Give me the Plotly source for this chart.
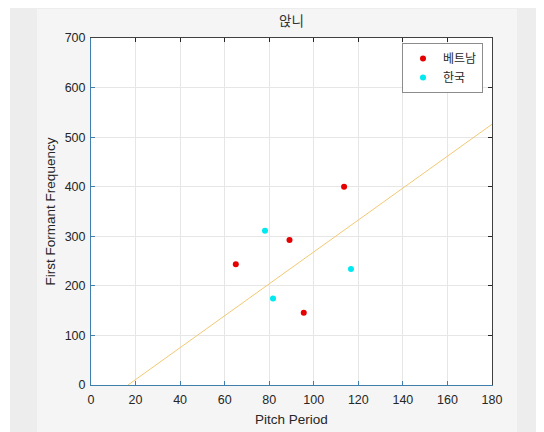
import plotly.graph_objects as go

# ---- data ----
viet_x = [113.6, 89.1, 65.0, 95.5]
viet_y = [400.0, 292.5, 243.5, 146.0]
kor_x = [78.1, 116.7, 81.7]
kor_y = [311.4, 234.0, 174.3]
line_x = [16.6, 180.0]
line_y = [0.0, 526.0]
x_ticks = [0, 20, 40, 60, 80, 100, 120, 140, 160, 180]
y_ticks = [0, 100, 200, 300, 400, 500, 600, 700]
title_text = "앉니"
legend_names = ["베트남", "한국"]

OFF = 8  # page body margin
SW, SH = 544, 432
W, H = SW - OFF, SH - OFF
L, R, T, B = 91, 492, 38, 385  # screen pixel coords of plot area

FONT = "Liberation Sans, Arial, Noto Sans CJK KR, sans-serif"
KFONT = "Noto Sans CJK KR, Liberation Sans, sans-serif"
AXC = "#262626"
BLUE = "#3f7fae"

fig = go.Figure()
fig.add_trace(go.Scatter(x=line_x, y=line_y, mode="lines",
                         line=dict(color="#f3c873", width=1), showlegend=False,
                         hoverinfo="skip"))
fig.add_trace(go.Scatter(x=viet_x, y=viet_y, mode="markers", name=legend_names[0],
                         marker=dict(color="#e60000", size=6)))
fig.add_trace(go.Scatter(x=kor_x, y=kor_y, mode="markers", name=legend_names[1],
                         marker=dict(color="#00e8f0", size=6)))
fig.add_trace(go.Scatter(x=[None], y=[None], xaxis="x2", yaxis="y2",
                         showlegend=False, hoverinfo="skip"))

def pxx(p):
    return (p - L) / (R - L)

def pxy(p):
    return (B - p) / (B - T)

shapes = []
def rect(x0, y0, x1, y1, color):
    shapes.append(dict(type="rect", xref="paper", yref="paper",
                       x0=pxx(x0), x1=pxx(x1), y0=pxy(y1), y1=pxy(y0),
                       fillcolor=color, line=dict(width=0), layer="below"))

rect(OFF, OFF, SW, SH, "#ffffff")
rect(10, 6, SW, SH, "#ededed")
rect(37, 9, 517, SH, "#f5f5f5")
rect(L, T, R, B, "#ffffff")

axis_common = dict(ticks="inside", ticklen=4, tickwidth=1, showgrid=True,
                   gridcolor="#e6e6e6", gridwidth=1, zeroline=False,
                   tickfont=dict(family=FONT, size=12.5, color=AXC),
                   showline=True, linewidth=1, layer="above traces",
                   automargin=False)

fig.update_layout(
    width=W, height=H,
    margin=dict(l=L - OFF, r=SW - R, t=T - OFF, b=SH - B, pad=0),
    paper_bgcolor="#ffffff",
    plot_bgcolor="rgba(0,0,0,0)",
    shapes=shapes,
    title=dict(text=title_text, x=((L + R) / 2 - OFF) / W, xanchor="center",
               y=1 - (21 - OFF) / H, yanchor="middle", yref="container",
               automargin=False,
               font=dict(family=KFONT, size=13.5, color="#333333")),
    xaxis=dict(range=[0, 180], tickvals=x_ticks, linecolor=BLUE, tickcolor=BLUE,
               ticklabelstandoff=3,
               title=dict(text="Pitch Period", standoff=8,
                          font=dict(family=FONT, size=13.5, color=AXC)),
               **axis_common),
    yaxis=dict(range=[0, 700], tickvals=y_ticks, linecolor=BLUE, tickcolor=BLUE,
               ticklabelstandoff=2,
               title=dict(text="First Formant Frequency", standoff=5,
                          font=dict(family=FONT, size=13.5, color=AXC)),
               **axis_common),
    xaxis2=dict(range=[0, 180], tickvals=x_ticks, overlaying="x", side="top",
                anchor="y", ticks="inside", ticklen=4, tickcolor=AXC,
                showticklabels=False, showgrid=False, zeroline=False,
                showline=True, linecolor="#404040", linewidth=1, automargin=False),
    yaxis2=dict(range=[0, 700], tickvals=y_ticks, overlaying="y", side="right",
                anchor="x", ticks="inside", ticklen=4, tickcolor=AXC,
                showticklabels=False, showgrid=False, zeroline=False,
                showline=True, linecolor="#404040", linewidth=1, automargin=False),
    legend=dict(x=pxx(402), y=pxy(43), xanchor="left", yanchor="top",
                bgcolor="#ffffff", bordercolor="#8c8c8c", borderwidth=1,
                font=dict(family=KFONT, size=12, color=AXC),
                tracegroupgap=0),
    showlegend=True,
)

fig.write_html("out.html")
